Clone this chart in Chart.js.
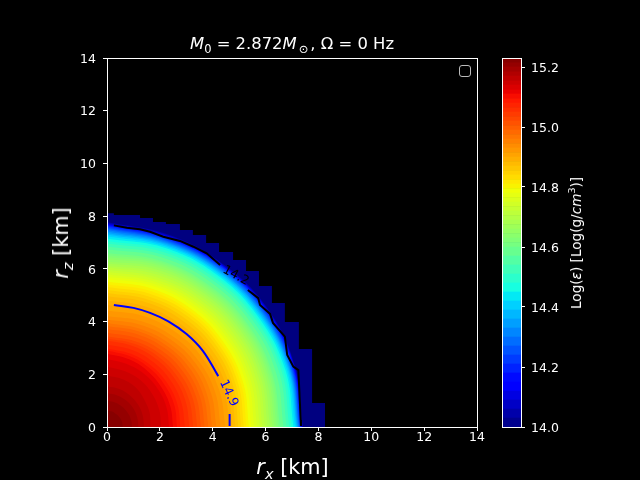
<!DOCTYPE html>
<html>
<head>
<meta charset="utf-8">
<script src="https://cdn.jsdelivr.net/npm/chart.js@4"></script>
<style>
    html, body { margin: 0; background: #000; }
    #wrap { position: relative; width: 640px; height: 480px; overflow: hidden; font-family: "DejaVu Sans"; color: #fff; }
    canvas { position: absolute; left: 0; top: 0; }
    .lbl { position: absolute; white-space: nowrap; transform: translate(-50%, -50%); }
    .lbl sub { font-size: 70%; line-height: 0; }
    #title { left: 292px; top: 43px; font-size: 16.4px; }
    #title .sun { margin: 0 2px; }
    #xlabel { left: 292.5px; top: 467px; font-size: 20.8px; }
    #ylabel { left: 61px; top: 242.5px; font-size: 20.8px; transform: translate(-50%, -50%) rotate(-90deg); }
    #cblabel { left: 576px; top: 243px; font-size: 13.6px; transform: translate(-50%, -50%) rotate(-90deg); }
    #cblabel sup { font-size: 70%; line-height: 0; }
    #legendbox { position: absolute; left: 459px; top: 65px; width: 10px; height: 10px; border: 1.3px solid #bbb; border-radius: 3px; }
</style>
</head>
<body>
<div id="wrap">
    <canvas id="mainChart" width="640" height="480"></canvas>
    <canvas id="barChart" width="640" height="480"></canvas>
    <div class="lbl" id="title"><i>M</i><sub>0</sub> = 2.872<i>M</i><sub class="sun">⊙</sub>, Ω = 0 Hz</div>
    <div class="lbl" id="xlabel"><i>r</i><sub><i>x</i></sub> [km]</div>
    <div class="lbl" id="ylabel"><i>r</i><sub><i>z</i></sub> [km]</div>
    <div class="lbl" id="cblabel">Log(<i>ε</i>) [Log(g/<i>cm</i><sup>3</sup>)]</div>
    <div id="legendbox"></div>
</div>
<script>
const axisTicks = [0, 2, 4, 6, 8, 10, 12, 14];
const colorTicks = [14.0, 14.2, 14.4, 14.6, 14.8, 15.0, 15.2];

// band edges of the filled contours
const levels = [14.00, 14.03, 14.06, 14.09, 14.12, 14.15, 14.18, 14.21, 14.24, 14.27, 14.30,
    14.33, 14.36, 14.39, 14.42, 14.45, 14.48, 14.51, 14.54, 14.57, 14.60,
    14.615, 14.63, 14.645, 14.66, 14.675, 14.69, 14.705, 14.72, 14.735, 14.75,
    14.765, 14.78, 14.795, 14.81, 14.825, 14.84, 14.855, 14.87, 14.885, 14.90,
    14.915, 14.93, 14.945, 14.96, 14.975, 14.99, 15.005, 15.02, 15.035, 15.05,
    15.065, 15.08, 15.095, 15.11, 15.125, 15.14, 15.155, 15.17, 15.185, 15.20, 15.215, 15.23];

// radius in km of each level (from 14.03 up) read at these angles
const angles = [90, 72, 54, 36, 18, 0];
const radii = [
    [7.78, 7.66, 7.58, 7.56, 7.48, 7.42],
    [7.75, 7.63, 7.56, 7.54, 7.46, 7.40],
    [7.72, 7.60, 7.54, 7.52, 7.45, 7.38],
    [7.69, 7.57, 7.52, 7.50, 7.44, 7.37],
    [7.67, 7.55, 7.51, 7.49, 7.42, 7.35],
    [7.65, 7.53, 7.50, 7.47, 7.41, 7.34],
    [7.62, 7.50, 7.47, 7.45, 7.39, 7.32],
    [7.57, 7.46, 7.44, 7.41, 7.36, 7.30],
    [7.52, 7.42, 7.40, 7.37, 7.33, 7.28],
    [7.47, 7.38, 7.36, 7.33, 7.30, 7.26],
    [7.42, 7.34, 7.32, 7.29, 7.27, 7.23],
    [7.36, 7.30, 7.28, 7.25, 7.24, 7.20],
    [7.30, 7.25, 7.23, 7.20, 7.20, 7.17],
    [7.24, 7.20, 7.18, 7.15, 7.15, 7.12],
    [7.15, 7.14, 7.12, 7.09, 7.09, 7.06],
    [7.06, 7.06, 7.05, 7.02, 7.02, 6.99],
    [6.96, 6.97, 6.96, 6.94, 6.94, 6.90],
    [6.85, 6.87, 6.86, 6.84, 6.84, 6.80],
    [6.74, 6.76, 6.75, 6.73, 6.72, 6.68],
    [6.60, 6.63, 6.62, 6.60, 6.58, 6.55],
    [6.53, 6.57, 6.56, 6.54, 6.52, 6.49],
    [6.45, 6.50, 6.49, 6.47, 6.45, 6.42],
    [6.37, 6.43, 6.42, 6.40, 6.38, 6.34],
    [6.28, 6.35, 6.34, 6.32, 6.30, 6.26],
    [6.20, 6.26, 6.26, 6.24, 6.21, 6.17],
    [6.12, 6.17, 6.17, 6.15, 6.12, 6.08],
    [6.05, 6.08, 6.08, 6.06, 6.03, 5.98],
    [5.97, 5.98, 5.98, 5.96, 5.93, 5.88],
    [5.89, 5.89, 5.89, 5.86, 5.83, 5.78],
    [5.80, 5.80, 5.79, 5.76, 5.72, 5.68],
    [5.71, 5.71, 5.70, 5.66, 5.62, 5.57],
    [5.62, 5.62, 5.60, 5.56, 5.52, 5.46],
    [5.52, 5.52, 5.50, 5.46, 5.42, 5.37],
    [5.42, 5.42, 5.40, 5.36, 5.33, 5.28],
    [5.31, 5.31, 5.30, 5.26, 5.23, 5.18],
    [5.20, 5.20, 5.19, 5.16, 5.13, 5.08],
    [5.08, 5.08, 5.07, 5.05, 5.02, 4.97],
    [4.96, 4.96, 4.95, 4.93, 4.90, 4.86],
    [4.80, 4.80, 4.79, 4.78, 4.77, 4.75],
    [4.63, 4.63, 4.63, 4.63, 4.64, 4.65],
    [4.42, 4.43, 4.44, 4.46, 4.47, 4.48],
    [4.20, 4.22, 4.25, 4.28, 4.30, 4.30],
    [4.08, 4.08, 4.10, 4.13, 4.14, 4.14],
    [3.95, 3.93, 3.95, 3.98, 3.98, 3.98],
    [3.83, 3.82, 3.82, 3.84, 3.84, 3.84],
    [3.72, 3.70, 3.70, 3.70, 3.70, 3.70],
    [3.58, 3.56, 3.56, 3.56, 3.56, 3.56],
    [3.43, 3.42, 3.42, 3.42, 3.42, 3.42],
    [3.36, 3.32, 3.30, 3.28, 3.27, 3.27],
    [3.28, 3.22, 3.18, 3.15, 3.13, 3.12],
    [3.13, 3.07, 3.02, 2.98, 2.96, 2.95],
    [2.98, 2.92, 2.86, 2.82, 2.80, 2.78],
    [2.90, 2.82, 2.75, 2.70, 2.68, 2.65],
    [2.78, 2.70, 2.62, 2.55, 2.52, 2.50],
    [2.58, 2.50, 2.45, 2.40, 2.37, 2.35],
    [2.30, 2.22, 2.18, 2.12, 2.08, 2.05],
    [1.95, 1.90, 1.85, 1.75, 1.70, 1.65],
    [1.55, 1.52, 1.48, 1.45, 1.42, 1.40],
    [1.28, 1.26, 1.24, 1.22, 1.20, 1.20],
    [1.00, 0.98, 0.96, 0.95, 0.95, 0.95],
    [0.62, 0.62, 0.60, 0.60, 0.60, 0.60]
];

// navy staircase under the star
const stairX = [0, 0.26, 1.25, 1.74, 2.23, 2.76, 3.25, 3.75, 4.24, 4.77, 5.26, 5.75, 6.24, 6.73, 7.26, 7.76, 8.25];
const stairY = [8.11, 8.04, 7.93, 7.78, 7.70, 7.47, 7.28, 6.98, 6.64, 6.34, 5.92, 5.35, 4.70, 3.98, 2.96, 0.91, 0.91];

// contour lines
const line142aX = [0.26, 0.75, 1.25, 1.63, 2.13, 2.76, 3.27, 3.77, 4.28];
const line142aY = [7.65, 7.56, 7.50, 7.41, 7.22, 7.06, 6.84, 6.59, 6.15];
const line142bX = [5.33, 5.72, 5.79, 6.17, 6.28, 6.73, 6.82, 7.05, 7.24, 7.33, 7.34];
const line142bY = [5.20, 4.89, 4.63, 4.29, 3.95, 3.43, 2.73, 2.29, 2.16, 0.27, 0.04];
const line149aX = [0.26, 1.00, 1.63, 2.32, 3.01, 3.62, 4.21];
const line149aY = [4.63, 4.52, 4.33, 4.01, 3.53, 2.90, 1.93];
const line149bX = [4.64, 4.64];
const line149bY = [0.49, 0.04];

const labelText = ['14.2', '14.9'];
const labelX = [4.87, 4.60];
const labelY = [5.74, 1.28];
const labelAngle = [28, 65];
const labelColor = ['#000000', '#0000ff'];

const VMIN = 14.0;
const VMAX = 15.23;

function ramp(pts, t) {
    for (let i = 1; i < pts.length; i++) {
        if (t <= pts[i][0]) {
            const a = pts[i - 1], b = pts[i];
            return a[1] + (b[1] - a[1]) * (t - a[0]) / (b[0] - a[0]);
        }
    }
    return pts[pts.length - 1][1];
}

// matplotlib jet
function jet(v) {
    const t = Math.min(1, Math.max(0, (v - VMIN) / (VMAX - VMIN)));
    const r = ramp([[0, 0], [0.35, 0], [0.66, 1], [0.89, 1], [1, 0.5]], t);
    const g = ramp([[0, 0], [0.125, 0], [0.375, 1], [0.64, 1], [0.91, 0], [1, 0]], t);
    const b = ramp([[0, 0.5], [0.11, 1], [0.34, 1], [0.65, 0], [1, 0]], t);
    return `rgb(${Math.round(r * 255)},${Math.round(g * 255)},${Math.round(b * 255)})`;
}

function zipXY(xs, ys) {
    return xs.map((x, i) => ({ x: x, y: ys[i] }));
}

function lineSet(xs, ys, color, tension) {
    return { data: zipXY(xs, ys), showLine: true, borderColor: color, borderWidth: 2, pointRadius: 0, fill: false, tension: tension };
}

const datasets = [
    lineSet(line149aX, line149aY, '#0000ff', 0.4),
    lineSet(line149bX, line149bY, '#0000ff', 0),
    lineSet(line142aX, line142aY, '#000000', 0),
    lineSet(line142bX, line142bY, '#000000', 0)
];

// first dataset ends up on top, so innermost band goes first
for (let i = radii.length - 1; i >= 0; i--) {
    const pts = radii[i].map((r, j) => ({
        x: r * Math.cos(angles[j] * Math.PI / 180),
        y: r * Math.sin(angles[j] * Math.PI / 180)
    }));
    const color = jet((levels[i + 1] + levels[i + 2]) / 2);
    datasets.push({ data: pts, showLine: true, borderWidth: 0, borderColor: color, backgroundColor: color,
        pointRadius: 0, fill: 'origin', tension: 0.4 });
}

datasets.push({ data: zipXY(stairX, stairY), showLine: true, stepped: 'before', borderWidth: 0, borderColor: jet(14),
    backgroundColor: jet(14), pointRadius: 0, fill: 'origin' });

const framePlugin = {
    id: 'frame',
    afterDraw(chart) {
        const a = chart.chartArea, ctx = chart.ctx;
        ctx.save();
        ctx.strokeStyle = '#fff';
        ctx.lineWidth = 1;
        ctx.strokeRect(Math.round(a.left) + 0.5, Math.round(a.top) + 0.5, Math.round(a.width), Math.round(a.height));
        ctx.restore();
    }
};

const contourLabels = {
    id: 'contourLabels',
    afterDatasetsDraw(chart) {
        const ctx = chart.ctx;
        labelText.forEach((t, i) => {
            ctx.save();
            ctx.translate(chart.scales.x.getPixelForValue(labelX[i]), chart.scales.y.getPixelForValue(labelY[i]));
            ctx.rotate(labelAngle[i] * Math.PI / 180);
            ctx.font = '12.5px "DejaVu Sans"';
            ctx.textAlign = 'center';
            ctx.textBaseline = 'middle';
            ctx.fillStyle = labelColor[i];
            ctx.fillText(t, 0, 0);
            ctx.restore();
        });
    }
};

function axisOpts(ticks, fmt, pad) {
    return {
        type: 'linear',
        afterBuildTicks: s => { s.ticks = ticks.map(v => ({ value: v })); },
        border: { color: '#fff', width: 1 },
        grid: { drawOnChartArea: false, drawTicks: true, tickLength: 4, tickColor: '#fff', tickWidth: 1 },
        ticks: { color: '#fff', font: { family: 'DejaVu Sans', size: 12.5, lineHeight: 0.24 }, padding: pad, maxRotation: 0, autoSkip: false, callback: fmt }
    };
}

new Chart(document.getElementById('mainChart'), {
    type: 'scatter',
    data: { datasets: datasets },
    options: {
        responsive: false,
        animation: false,
        layout: { padding: { top: 58, right: 163, left: 0, bottom: 0 } },
        plugins: { legend: { display: false }, tooltip: { enabled: false } },
        scales: {
            x: Object.assign(axisOpts(axisTicks, v => String(v), 5), { min: 0, max: 14, afterFit: s => { s.height = 53; } }),
            // two line label with a tiny line height nudges the text down onto the tick
            y: Object.assign(axisOpts(axisTicks, v => ['', String(v)], 7), { min: 0, max: 14, afterFit: s => { s.width = 107; } })
        }
    },
    plugins: [contourLabels, framePlugin]
});

// colorbar
const bandSets = levels.slice(0, -1).map((lo, i) => ({
    data: [[lo, levels[i + 1]]],
    backgroundColor: jet((lo + levels[i + 1]) / 2),
    borderWidth: 0,
    barPercentage: 1,
    categoryPercentage: 1
}));

new Chart(document.getElementById('barChart'), {
    type: 'bar',
    data: { labels: ['c'], datasets: bandSets },
    options: {
        responsive: false,
        animation: false,
        layout: { padding: { top: 58, left: 502, bottom: 53, right: 0 } },
        plugins: { legend: { display: false }, tooltip: { enabled: false } },
        scales: {
            x: { display: false, stacked: true },
            y: Object.assign(axisOpts(colorTicks, v => ['', v.toFixed(1)], 6), { position: 'right', min: VMIN, max: VMAX, afterFit: s => { s.width = 119; } })
        }
    },
    plugins: [framePlugin]
});
</script>
</body>
</html>
